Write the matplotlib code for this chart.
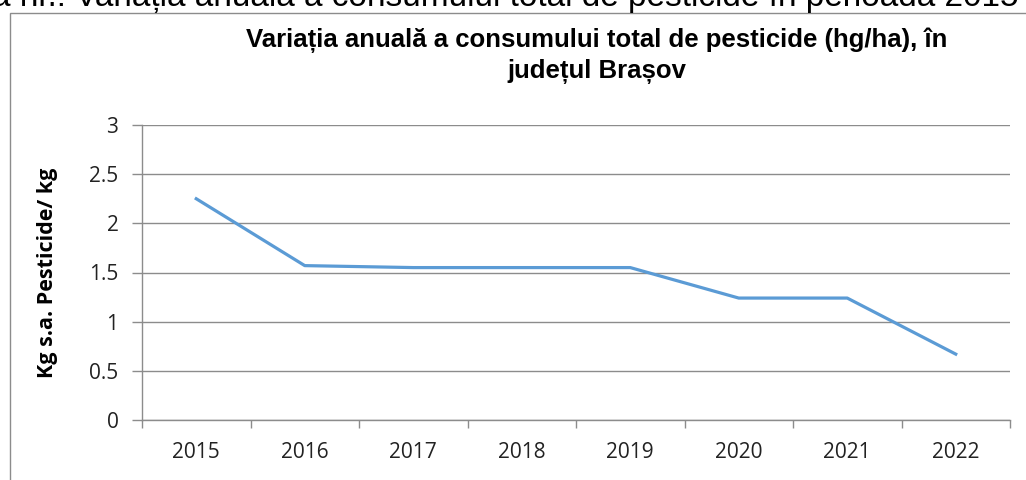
import numpy as np
import matplotlib
matplotlib.use('Agg')
import matplotlib.pyplot as plt
from matplotlib.patches import Rectangle

##-- data --##
years = ['2015', '2016', '2017', '2018', '2019', '2020', '2021', '2022']
values = [2.25, 1.57, 1.55, 1.55, 1.55, 1.24, 1.24, 0.67]
yticks = [0, 0.5, 1, 1.5, 2, 2.5, 3]
ytick_labels = ['0', '0.5', '1', '1.5', '2', '2.5', '3']

title = 'Variația anuală a consumului total de pesticide (hg/ha), în\njudețul Brașov'
ylabel = 'Kg s.a. Pesticide/ kg'
caption = 'a nr.: Variația anuală a consumului total de pesticide în perioada 2015'

W, H = 1026, 480
fig = plt.figure(figsize=(W / 100, H / 100), dpi=100)

#-- clipped caption above the chart box (only its lower edge shows) --#
fig.text(-8 / W, 1 - 6 / H, caption, fontsize=24, family='Liberation Sans',
         ha='left', va='baseline', color='black')

#-- chart border --#
fig.patches.append(Rectangle((10 / W, -0.05), 1.2, 1 - 13 / H + 0.05,
                             transform=fig.transFigure, fill=False,
                             edgecolor='#8c8c8c', linewidth=1.0))

ax = fig.add_axes([142 / W, 1 - 420 / H, (1010 - 142) / W, (420 - 125) / H])

x = np.arange(len(years))
ax.plot(x, values, color='#5B9BD5', linewidth=2.3, solid_joinstyle='round')

ax.set_xlim(-0.5, len(years) - 0.5)
ax.set_ylim(0, 3)
ax.set_yticks(yticks)
ax.set_yticklabels(ytick_labels, family='Open Sans', fontsize=15, color='#222222')
ax.set_xticks(x)
ax.set_xticklabels(years, family='Open Sans', fontsize=15, color='#222222')
ax.set_xticks(np.arange(len(years) + 1) - 0.5, minor=True)
ax.tick_params(axis='x', which='major', length=0, pad=16)
ax.tick_params(axis='x', which='minor', length=6, color='#8c8c8c', width=1)
ax.tick_params(axis='y', length=7, color='#8c8c8c', width=1, pad=10)

ax.grid(axis='y', color='#8c8c8c', linewidth=1)
ax.set_axisbelow(True)
for s in ['top', 'right']:
    ax.spines[s].set_visible(False)
for s in ['left', 'bottom']:
    ax.spines[s].set_color('#8c8c8c')
    ax.spines[s].set_linewidth(1)

ax.set_ylabel(ylabel, family='Open Sans', fontweight='bold', fontsize=15.5)
ax.yaxis.set_label_coords((48 - 142) / (1010 - 142), 0.5)
ax.yaxis.label.set_va('center')

fig.text(597 / W, 1 - 56 / H, title, fontsize=18.5, fontweight='bold',
         family='Liberation Sans', ha='center', va='center', linespacing=1.3)

fig.savefig('out.png', dpi=100)
